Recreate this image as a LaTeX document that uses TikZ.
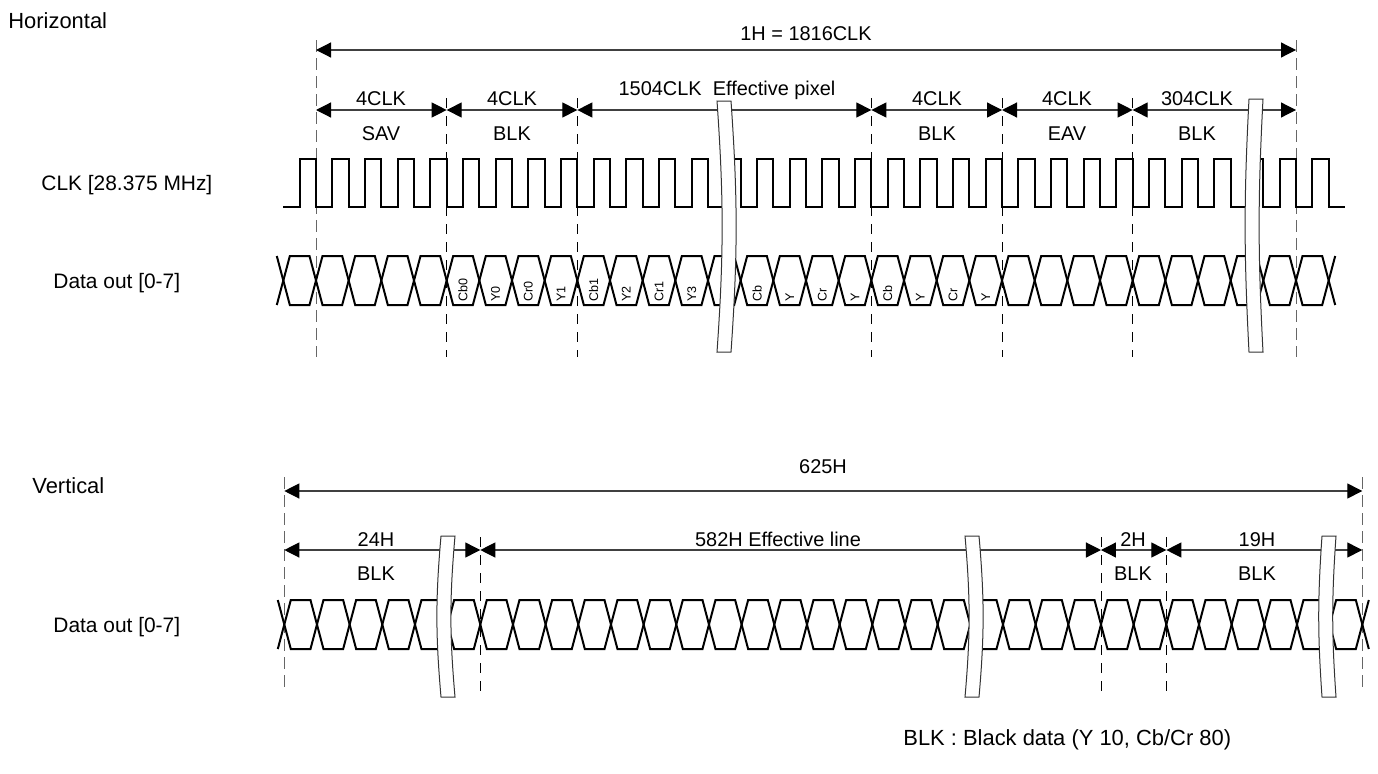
\documentclass[tikz,border=0pt]{standalone}
\usepackage{fontspec}
\setmainfont{Liberation Sans}
\usetikzlibrary{arrows.meta}

\tikzset{
  dimtip/.tip={Triangle[length=7.5bp,width=7.5bp,color=black]},
  dim/.style={dimtip-dimtip, line width=0.6bp, draw=black!75},
  wave/.style={line width=1bp, line join=miter},
  guide/.style={dash pattern=on 6bp off 3bp, line width=0.5bp, draw=black!60},
  subguide/.style={dash pattern=on 5bp off 4bp, line width=0.4bp},
  title/.style={font=\fontsize{11}{13}\selectfont, anchor=base west, inner sep=0pt},
  sig/.style={font=\fontsize{10.5}{12}\selectfont, anchor=base west, inner sep=0pt},
  dimtext/.style={font=\fontsize{10}{12}\selectfont, anchor=base, inner sep=0pt},
  celltext/.style={font=\fontsize{6.3}{7}\selectfont, rotate=90, anchor=west, inner sep=0pt},
  cut/.style={draw=black!80, fill=white, line width=0.5bp},
}

% break mark: x, top, bottom, bend
\newcommand\cutmark[4]{%
  \path[cut] (#1-7,#2) to[bend left=#4] (#1-7,#3) -- (#1+7,#3)
    to[bend right=#4] (#1+7,#2) -- cycle;}

\begin{document}
\begin{tikzpicture}[x=0.5bp, y=-0.5bp]
  \useasboundingbox (0,0) rectangle (1378,773);
  \def\T{32.667}

  % ---------------- Horizontal ----------------
  \node[title] (htitle) at (8,28) {Horizontal};
  \node[sig] (clklbl) at (41,190) {CLK [28.375 MHz]};
  \node[sig] (hdatalbl) at (53,288) {Data out [0-7]};

  % guide lines
  \draw[guide] (316,40) -- (316,357);
  \draw[guide] (1296,40) -- (1296,357);
  \foreach \k in {4,8,17,21,25}
    \draw[subguide] ({316+\k*\T},98) -- ({316+\k*\T},357);

  % clock
  \draw[wave] (283.3,207) \foreach \k in {0,...,31} {
      -- ({316+(\k-0.5)*\T},207) -- ++(0,-48) -- ({316+\k*\T},159) -- ++(0,48) }
    -- ++(16.3,0);

  % data out
  \foreach \k in {0,...,31}
    \draw[wave] ({316+(\k-1)*\T},280.5) -- ++(6.5,-24.5) -- ({316+\k*\T-6.5},256)
      -- ({316+\k*\T},280.5) -- ++(-6.5,24.5) -- ({316+(\k-1)*\T+6.5},305) -- cycle;
  \draw[wave] (276.8,256) -- (283.3,280.5) -- (276.8,305);
  \draw[wave] ({316+31*\T+6.5},256) -- ({316+31*\T},280.5) -- ({316+31*\T+6.5},305);
  \foreach \k/\t in {4/Cb0,5/Y0,6/Cr0,7/Y1,8/Cb1,9/Y2,10/Cr1,11/Y3,
                     13/Cb,14/Y,15/Cr,16/Y,17/Cb,18/Y,19/Cr,20/Y}
    \node[celltext] (c\k) at ({316+(\k+0.5)*\T},302) {\t};

  % dimensions
  \draw[dim] (316,50) -- (1296,50);
  \node[dimtext] (hall) at (806,40) {1H = 1816CLK};
  \draw[dim] (316,110) -- ({316+4*\T},110);
  \draw[dim] ({316+4*\T},110) -- ({316+8*\T},110);
  \draw[dim] ({316+8*\T},110) -- ({316+17*\T},110);
  \draw[dim] ({316+17*\T},110) -- ({316+21*\T},110);
  \draw[dim] ({316+21*\T},110) -- ({316+25*\T},110);
  \draw[dim] ({316+25*\T},110) -- (1296,110);
  \foreach \x/\a/\b in {381/4CLK/SAV, 512/4CLK/BLK, 937/4CLK/BLK,
                        1067/4CLK/EAV, 1197/304CLK/BLK} {
    \node[dimtext] at (\x,105) {\a};
    \node[dimtext] at (\x,140) {\b};
  }
  \node[dimtext] (hpix) at (727,95) {1504CLK~~Effective pixel};

  \cutmark{724}{101}{352}{4}
  \cutmark{1256}{99}{352}{-3}

  % ---------------- Vertical ----------------
  \node[title] (vtitle) at (32,493) {Vertical};
  \node[sig] (vdatalbl) at (53,632) {Data out [0-7]};

  \draw[guide] (284.3,477) -- (284.3,690);
  \draw[guide] ({284.3+33*\T},477) -- ({284.3+33*\T},690);
  \foreach \j in {6,25,27}
    \draw[subguide] ({284.3+\j*\T},537) -- ({284.3+\j*\T},697);

  \foreach \j in {1,...,33}
    \draw[wave] ({284.3+(\j-1)*\T},624.5) -- ++(6.5,-24.5) -- ({284.3+\j*\T-6.5},600)
      -- ({284.3+\j*\T},624.5) -- ++(-6.5,24.5) -- ({284.3+(\j-1)*\T+6.5},649) -- cycle;
  \draw[wave] (277.8,600) -- (284.3,624.5) -- (277.8,649);
  \draw[wave] ({284.3+33*\T+6.5},600) -- ({284.3+33*\T},624.5) -- ({284.3+33*\T+6.5},649);

  \draw[dim] (284.3,491) -- ({284.3+33*\T},491);
  \node[dimtext] (vall) at (823,473) {625H};
  \draw[dim] (284.3,550) -- ({284.3+6*\T},550);
  \draw[dim] ({284.3+6*\T},550) -- ({284.3+25*\T},550);
  \draw[dim] ({284.3+25*\T},550) -- ({284.3+27*\T},550);
  \draw[dim] ({284.3+27*\T},550) -- ({284.3+33*\T},550);
  \foreach \x/\a in {376/24H, 1133/2H, 1257/19H} {
    \node[dimtext] at (\x,546.7) {\a};
    \node[dimtext] at (\x,580) {BLK};
  }
  \node[dimtext] (vline) at (778,546.7) {582H Effective line};

  \cutmark{448}{536}{697}{-5}
  \cutmark{972}{536}{697}{5}
  \cutmark{1329}{536}{697}{-4}

  \node[title] (note) at (903,745) {BLK : Black data (Y 10, Cb/Cr 80)};
\end{tikzpicture}
\end{document}
